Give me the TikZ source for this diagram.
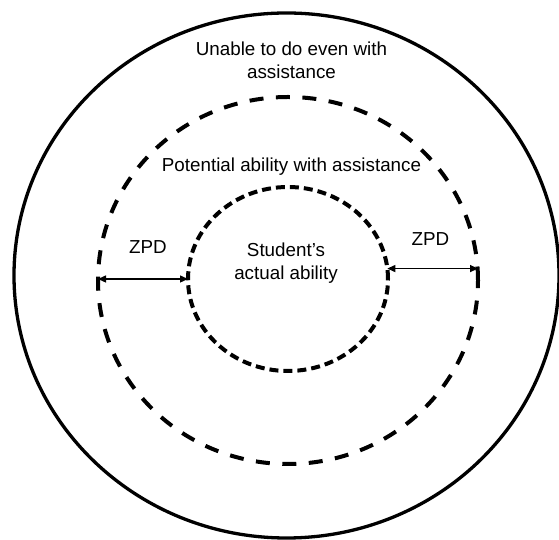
\documentclass[tikz,border=0pt]{standalone}
\usepackage{fontspec}
\setmainfont{Liberation Sans}
\usetikzlibrary{shapes.geometric,arrows.meta}

\begin{document}
\begin{tikzpicture}[x=1pt,y=1pt]
	\tikzstyle{Ring} = [ellipse,draw,inner sep=0pt,outer sep=0pt]
	\tikzstyle{Label} = [font=\fontsize{18.8}{23}\selectfont,align=center]
	\tikzstyle{Span} = [{Triangle[length=8pt,width=7pt]}-{Triangle[length=8pt,width=7pt]},line width=1.4pt]
	\useasboundingbox (0,0) rectangle (559,540);
	\node[Ring,line width=3.3pt,minimum width=545pt,minimum height=525pt] (outer) at (286.5,264.5) {};
	\node[Ring,line width=4pt,dash pattern=on 14pt off 12.5pt,
	minimum width=380pt,minimum height=367pt] (mid) at (288,259.5) {};
	\node[Ring,line width=4pt,dash pattern=on 9pt off 5pt,
	minimum width=200pt,minimum height=184pt] (inner) at (288,261) {};
	\draw (291.5,480) node[Label] (unable) {Unable to do even with\\assistance};
	\draw (291.5,368) node[Label,anchor=base] (potential) {Potential ability with assistance};
	\draw (286,277) node[Label] (actual) {Student’s\\actual ability};
	\draw (148,286) node[Label,anchor=base] (zpdleft) {ZPD};
	\draw (430.5,294) node[Label,anchor=base] (zpdright) {ZPD};
	\draw[Span] (inner.west -| mid.west) -- (inner.west);
	\draw[Span] (inner.6) -- (inner.6 -| mid.east);
	
\end{tikzpicture}
\end{document}
